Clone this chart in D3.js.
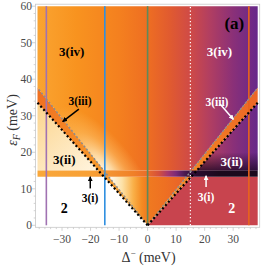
<!DOCTYPE html>
<html><head><meta charset="utf-8">
<script src="https://cdn.jsdelivr.net/npm/d3@7"></script>
<style>body{margin:0;background:#fff}svg{display:block}</style>
</head><body><svg id="c" width="263" height="266"></svg>
<script>
// ---------- data ----------
const deltaDomain = [-38.6, 38.6];          // Δ⁻ (meV)
const epsDomain = [0, 60];                  // ε_F (meV)
const xTickValues = [-30, -20, -10, 0, 10, 20, 30];
const yTickValues = [0, 10, 20, 30, 40, 50, 60];
const bandEps = [13.3, 15.0];               // 3(i) stripe
const innerSlope = 0.87;                    // black dotted boundary ε = k|Δ|
const outerSlope = 0.975;                   // gray dashed boundary ε = k|Δ|
const markerDeltas = [-35.5, -15, 0, 15, 35.5];
// colour read-outs (Δ positions → colour)
const topDelta = [-38.6, -25, -10, 0, 8, 15, 22, 30, 38.6];
const topColor = ["#faa431", "#f8931f", "#f4801f", "#ee6e22", "#e05a30", "#cf4a47", "#b03e62", "#8a3078", "#66288a"];
const bandDelta = [-38.6, -20, -12, -5, 0, 4, 7, 10, 13, 17, 25, 38.6];
const bandColor = ["#f9a73a", "#f8a035", "#f39030", "#f08028", "#ea6c2a", "#d4503c", "#a8386a", "#7a2a78", "#4a1a50", "#2a0c30", "#1c0a1c", "#1a0a1e"];
const vDelta = [-13, -9, -5, -2, 0, 6, 13];
const vColor = ["#fff8ec", "#fde2a8", "#f9b048", "#f48a22", "#f07a20", "#ee7022", "#e8622a"];
const leftIIColor = ["#fcd48c", "#fff4de"];
const leftStripColor = ["#fab040", "#f7962a", "#f07020"];
const rightStripColor = ["#f6a035", "#f28022", "#ec6626"];
const rightTwoColor = "#c8444e";

// ---------- styles ----------
const markerColors = ["#a072b2", "#2f8fe0", "#5e8a5a", "#ffffff", "#e8641c"];

const svg = d3.select("#c");
const x = d3.scaleLinear().domain(deltaDomain).range([37.5, 257.7]);
const y = d3.scaleLinear().domain(epsDomain).range([225.3, 6.2]);
const defs = svg.append("defs");
const L = deltaDomain[0], R = deltaDomain[1], T = epsDomain[1];
const [bl, bh] = bandEps;
const line = d3.line().x(d => x(d[0])).y(d => y(d[1]));
const poly = pts => line(pts) + "Z";

function hGrad(id, ds, cs) {
  const x1 = x(ds[0]), x2 = x(ds[ds.length - 1]);
  const g = defs.append("linearGradient").attr("id", id).attr("gradientUnits", "userSpaceOnUse")
    .attr("x1", x1).attr("x2", x2).attr("y1", 0).attr("y2", 0);
  ds.forEach((d, i) => g.append("stop").attr("offset", (x(d) - x1) / (x2 - x1)).attr("stop-color", cs[i]));
}
function lGrad(id, p1, p2, cs, ops) {
  const g = defs.append("linearGradient").attr("id", id).attr("gradientUnits", "userSpaceOnUse")
    .attr("x1", x(p1[0])).attr("y1", y(p1[1])).attr("x2", x(p2[0])).attr("y2", y(p2[1]));
  cs.forEach((c, i) => g.append("stop").attr("offset", i / (cs.length - 1)).attr("stop-color", c)
    .attr("stop-opacity", ops ? ops[i] : 1));
}
hGrad("gTop", topDelta, topColor);
hGrad("gBand", bandDelta, bandColor);
hGrad("gV", vDelta, vColor);
lGrad("gLeftII", [L, innerSlope * -L], [-18, bh], leftIIColor);
lGrad("gLS", [0, 0], [L, -L * 0.92], leftStripColor);
lGrad("gRS", [0, 0], [R, R * 0.92], rightStripColor);
lGrad("gDark", [0, bh], [0, bh + 5], ["#1e0826", "#1e0826"], [0.8, 0]);

// glow along the left diagonal near the 3(i) junction
const jx = x(-bh / outerSlope), jy = y(bh);
const ang = Math.atan2(y(outerSlope * 10) - y(0), x(10) - x(0)) * 180 / Math.PI;
const glow = defs.append("radialGradient").attr("id", "gGlow").attr("gradientUnits", "userSpaceOnUse")
  .attr("cx", jx).attr("cy", jy).attr("r", 78)
  .attr("gradientTransform", `translate(${jx},${jy}) rotate(${-ang}) scale(1,0.4) translate(${-jx},${-jy})`);
[[0, "#fff8e8", 0.95], [0.25, "#ffecc0", 0.8], [0.6, "#ffd080", 0.4], [1, "#ffc870", 0]]
  .forEach(s => glow.append("stop").attr("offset", s[0]).attr("stop-color", s[1]).attr("stop-opacity", s[2]));

const topPts = [[L, T], [R, T], [R, outerSlope * R], [bh / outerSlope, bh], [-bh / outerSlope, bh], [L, outerSlope * -L]];
const leftIIPts = [[L, bh], [-bh / innerSlope, bh], [L, innerSlope * -L]];
const rightIIPts = [[bh / innerSlope, bh], [R, bh], [R, innerSlope * R]];
defs.append("clipPath").attr("id", "clipGlow").append("path").attr("d", poly(topPts));

const g = svg.append("g");
g.append("rect").attr("x", x(L)).attr("y", y(T)).attr("width", x(R) - x(L)).attr("height", y(0) - y(T)).attr("fill", "#fff");
g.append("path").attr("d", poly(topPts)).attr("fill", "url(#gTop)");
g.append("path").attr("d", poly(topPts)).attr("fill", "url(#gGlow)").attr("clip-path", "url(#clipGlow)");
g.append("path").attr("d", poly(leftIIPts)).attr("fill", "url(#gLeftII)");
g.append("path").attr("d", poly(rightIIPts)).attr("fill", "url(#gTop)");
g.append("path").attr("d", poly(rightIIPts)).attr("fill", "url(#gDark)");
g.append("path").attr("d", poly([[0, 0], [-bl / outerSlope, bl], [bl / outerSlope, bl]])).attr("fill", "url(#gV)");
g.append("path").attr("d", poly([[0, 0], [R, 0], [R, bl], [bl / innerSlope, bl]])).attr("fill", rightTwoColor);
g.append("path").attr("d", poly([[0, 0], [L, innerSlope * -L], [L, outerSlope * -L]])).attr("fill", "url(#gLS)");
g.append("path").attr("d", poly([[0, 0], [R, innerSlope * R], [R, outerSlope * R]])).attr("fill", "url(#gRS)");
g.append("rect").attr("x", x(L)).attr("y", y(bh)).attr("width", x(R) - x(L)).attr("height", y(bl) - y(bh)).attr("fill", "url(#gBand)");

// vertical marker lines
markerDeltas.forEach((d, i) => {
  g.append("line").attr("x1", x(d)).attr("x2", x(d)).attr("y1", y(0)).attr("y2", y(T))
    .attr("stroke", markerColors[i]).attr("stroke-width", i === 3 ? 1.2 : 1.6)
    .attr("stroke-dasharray", i === 3 ? "1.3,2.2" : null);
});
// boundary lines
[-1, 1].forEach(s => {
  g.append("path").attr("d", line([[0, 0], [s * R, outerSlope * R]])).attr("stroke", "#8c8c8c")
    .attr("stroke-width", 1.5).attr("stroke-dasharray", "2,2").attr("fill", "none");
  g.append("path").attr("d", line([[0, 0], [s * R, innerSlope * R]])).attr("stroke", "#000")
    .attr("stroke-width", 2.2).attr("stroke-dasharray", "2,2.4").attr("fill", "none");
});

// frame + ticks
const fx0 = x(L) - 2, fx1 = x(R) + 2, fy0 = y(T) - 2, fy1 = y(0) + 2;
const axisG = svg.append("g").attr("stroke", "#c8c8c8").attr("fill", "none").attr("stroke-width", 0.8);
axisG.append("rect").attr("x", fx0).attr("y", fy0).attr("width", fx1 - fx0).attr("height", fy1 - fy0);
d3.range(-38, 39, 2).forEach(d => {
  const len = d % 10 === 0 ? 3.5 : 1.8;
  axisG.append("line").attr("x1", x(d)).attr("x2", x(d)).attr("y1", fy1).attr("y2", fy1 + len);
});
d3.range(0, 61, 2).forEach(e => {
  const len = e % 10 === 0 ? 3.5 : 1.8;
  axisG.append("line").attr("x1", fx0).attr("x2", fx0 - len).attr("y1", y(e)).attr("y2", y(e));
});
const tickFont = { "font-family": "Liberation Serif", "font-size": "11.5px", fill: "#4a4a4a" };
xTickValues.forEach(v => {
  const t = svg.append("text").attr("x", x(v)).attr("y", 243).attr("text-anchor", "middle")
    .text(v < 0 ? "\u2212" + Math.abs(v) : String(v));
  Object.entries(tickFont).forEach(([k, val]) => t.attr(k, val));
});
yTickValues.forEach(v => {
  const t = svg.append("text").attr("x", 32).attr("y", y(v) + 4).attr("text-anchor", "end").text(String(v));
  Object.entries(tickFont).forEach(([k, val]) => t.attr(k, val));
});
// axis titles
const xt = svg.append("text").attr("x", 148.5).attr("y", 262).attr("text-anchor", "middle")
  .attr("font-family", "Liberation Serif").attr("font-size", "14px").attr("fill", "#333");
xt.append("tspan").text("\u0394");
xt.append("tspan").attr("font-size", "9px").attr("dy", -6).text("\u2212");
xt.append("tspan").attr("dy", 6).text(" (meV)");
const yt = svg.append("text").attr("transform", "translate(17,120) rotate(-90)").attr("text-anchor", "middle")
  .attr("font-family", "Liberation Serif").attr("font-size", "14px").attr("fill", "#333");
yt.append("tspan").attr("font-style", "italic").text("\u03b5");
yt.append("tspan").attr("font-style", "italic").attr("font-size", "10px").attr("dy", 3).text("F");
yt.append("tspan").attr("dy", -3).text(" (meV)");

// annotations
defs.append("marker").attr("id", "ahB").attr("viewBox", "0 0 10 10").attr("refX", 9).attr("refY", 5)
  .attr("markerWidth", 5).attr("markerHeight", 5).attr("orient", "auto").attr("markerUnits", "userSpaceOnUse")
  .append("path").attr("d", "M0,0L10,5L0,10Z").attr("fill", "#000");
defs.append("marker").attr("id", "ahW").attr("viewBox", "0 0 10 10").attr("refX", 9).attr("refY", 5)
  .attr("markerWidth", 5).attr("markerHeight", 5).attr("orient", "auto").attr("markerUnits", "userSpaceOnUse")
  .append("path").attr("d", "M0,0L10,5L0,10Z").attr("fill", "#fff");
const labels = [
  { t: "3(iv)", d: -26.6, e: 47.6, c: "#000", s: 13 },
  { t: "3(iii)", d: -23.7, e: 34.1, c: "#000", s: 11.5 },
  { t: "3(ii)", d: -29.2, e: 17.9, c: "#000", s: 13 },
  { t: "3(i)", d: -20.2, e: 7.4, c: "#000", s: 11.5 },
  { t: "2", d: -29.2, e: 4.7, c: "#000", s: 14 },
  { t: "(a)", d: 30.4, e: 55.3, c: "#000", s: 17 },
  { t: "3(iv)", d: 25.2, e: 47.6, c: "#fff", s: 13 },
  { t: "3(iii)", d: 24.3, e: 33.9, c: "#fff", s: 11.5 },
  { t: "3(ii)", d: 29.5, e: 17.4, c: "#fff", s: 13 },
  { t: "3(i)", d: 20.5, e: 7.8, c: "#fff", s: 11.5 },
  { t: "2", d: 29.5, e: 4.7, c: "#fff", s: 14 }
];
labels.forEach(l => svg.append("text").attr("x", x(l.d)).attr("y", y(l.e)).attr("text-anchor", "middle")
  .attr("dominant-baseline", "central").attr("font-family", "Liberation Serif").attr("font-weight", "bold")
  .attr("font-size", l.s + "px").attr("fill", l.c).text(l.t));
const arrows = [
  { a: [-24.1, 31.8], b: [-29.8, 28.4], c: "#000", m: "ahB" },
  { a: [-20.1, 10.1], b: [-20.1, 13.3], c: "#000", m: "ahB" },
  { a: [25.4, 33.2], b: [30.1, 29.0], c: "#fff", m: "ahW" },
  { a: [20.5, 10.5], b: [20.5, 13.6], c: "#fff", m: "ahW" }
];
arrows.forEach(a => svg.append("line").attr("x1", x(a.a[0])).attr("y1", y(a.a[1])).attr("x2", x(a.b[0])).attr("y2", y(a.b[1]))
  .attr("stroke", a.c).attr("stroke-width", 1.5).attr("marker-end", `url(#${a.m})`));
</script></body></html>
